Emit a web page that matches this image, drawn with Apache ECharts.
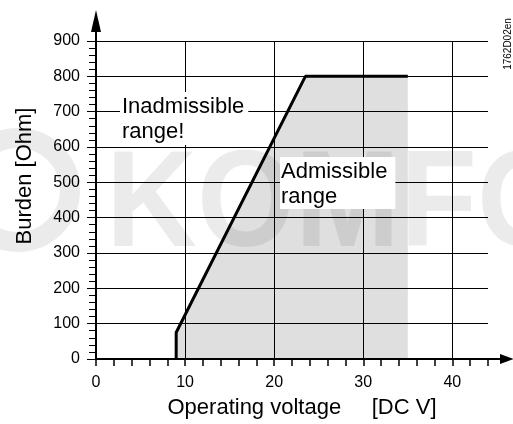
<!DOCTYPE html>
<html>
<head>
<meta charset="utf-8">
<script src="https://cdn.jsdelivr.net/npm/echarts@6/dist/echarts.min.js"></script>
<style>
html, body { margin: 0; padding: 0; background: #fff; }
#chart { width: 513px; height: 424px; }
</style>
</head>
<body>
<div id="chart"></div>
<script>
// data
var voltage = [9, 9, 23.5, 35];
var burden = [0, 75, 800, 800];
var xGridValues = [10, 20, 30, 40];
var xTickLabels = [0, 10, 20, 30, 40];

var font = 'Arial, "Liberation Sans", sans-serif';

var myChart = echarts.init(document.getElementById('chart'));

var option = {
	animation: false,
	grid: { left: 96, right: 25, top: 41, bottom: 65 },
	xAxis: {
		type: 'value',
		min: 0,
		max: 44,
		interval: 2,
		z: 5,
		name: 'Operating voltage     [DC V]',
		nameLocation: 'middle',
		nameGap: 38,
		nameTextStyle: { fontFamily: font, fontSize: 22, color: '#000', padding: [0, 0, 0, 20] },
		axisLine: { lineStyle: { color: '#000', width: 2 } },
		axisTick: { length: 7, lineStyle: { color: '#000', width: 1.5 } },
		axisLabel: {
			fontFamily: font, fontSize: 16, color: '#000', margin: 16,
			formatter: function (v) {
				return xTickLabels.indexOf(v) >= 0 ? String(v) : '';
			}
		},
		splitLine: { show: false }
	},
	yAxis: {
		type: 'value',
		min: 0,
		max: 900,
		interval: 100,
		z: 5,
		name: 'Burden [Ohm]',
		nameLocation: 'middle',
		nameGap: 60,
		nameTextStyle: { fontFamily: font, fontSize: 22, color: '#000', padding: [0, 0, 0, 48] },
		axisLine: { lineStyle: { color: '#000', width: 2 } },
		axisTick: { length: 9, lineStyle: { color: '#000', width: 1 } },
		minorTick: { show: true, splitNumber: 5, length: 7, lineStyle: { color: '#000', width: 1 } },
		axisLabel: { fontFamily: font, fontSize: 16, color: '#000', margin: 16 },
		splitLine: { lineStyle: { color: '#000', width: 1 } }
	},
	series: [{
		type: 'line',
		data: voltage.map(function (v, i) { return [v, burden[i]]; }),
		symbol: 'none',
		lineStyle: { color: '#000', width: 3 },
		areaStyle: { color: '#dfdfdf', opacity: 1 },
		markLine: {
			silent: true,
			symbol: 'none',
			label: { show: false },
			lineStyle: { color: '#000', width: 1, type: 'solid' },
			data: xGridValues.map(function (v) { return { xAxis: v }; })
		}
	}]
};

myChart.setOption(option);

// axis arrows, watermark and notes
var o = myChart.convertToPixel({ gridIndex: 0 }, [0, 0]);
var yTop = myChart.convertToPixel({ gridIndex: 0 }, [0, 900]);
var xEnd = myChart.convertToPixel({ gridIndex: 0 }, [44, 0]);

myChart.setOption({
	graphic: [
		{ type: 'line', z: 6, shape: { x1: o[0], y1: yTop[1], x2: o[0], y2: 28 }, style: { stroke: '#000', lineWidth: 2 } },
		{ type: 'polygon', z: 6, shape: { points: [[o[0] - 5, 32], [o[0] + 5, 32], [o[0], 10]] }, style: { fill: '#000' } },
		{ type: 'line', z: 6, shape: { x1: xEnd[0], y1: o[1], x2: 502, y2: o[1] }, style: { stroke: '#000', lineWidth: 2 } },
		{ type: 'polygon', z: 6, shape: { points: [[500, o[1] - 5], [500, o[1] + 5], [514, o[1]]] }, style: { fill: '#000' } },
		// watermark
		{ type: 'circle', z: 7, silent: true, shape: { cx: 18, cy: 190, r: 52 }, style: { fill: 'none', stroke: 'rgba(0,0,0,0.08)', lineWidth: 20 } },
		{ type: 'text', z: 7, silent: true, x: 106, y: 140, scaleX: 0.92,
			style: { text: 'KOMFO', font: 'bold 137px ' + font, fill: 'rgba(0,0,0,0.08)', verticalAlign: 'top' } },
		// notes
		{ type: 'text', z: 10, x: 120, y: 92,
			style: { text: 'Inadmissible\nrange!', font: '22px ' + font, lineHeight: 25, fill: '#000', backgroundColor: '#fff', padding: [2, 4, 1, 2] } },
		{ type: 'text', z: 10, x: 280, y: 157,
			style: { text: 'Admissible\nrange', font: '22px ' + font, lineHeight: 25, fill: '#000', backgroundColor: '#fff', padding: [2, 8, 0, 1] } },
		{ type: 'text', z: 10, x: 508, y: 44, rotation: Math.PI / 2,
			style: { text: '1762D02en', font: '10px ' + font, fill: '#000', align: 'center', verticalAlign: 'middle' } }
	]
});
</script>
</body>
</html>
